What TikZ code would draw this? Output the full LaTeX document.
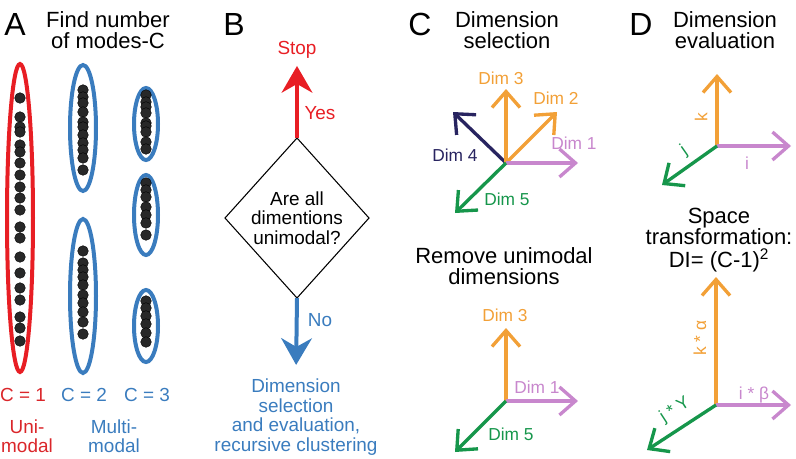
\documentclass[tikz,border=0pt]{standalone}
\usepackage{fontspec}
\setmainfont{Liberation Sans}
\usepackage{tikz}
\usetikzlibrary{arrows.meta,shapes.geometric}

\definecolor{modered}{RGB}{232,30,36}
\definecolor{labelred}{RGB}{218,38,42}
\definecolor{modeblue}{RGB}{58,124,190}
\definecolor{dotgray}{RGB}{40,40,40}
\definecolor{dimorange}{RGB}{242,160,55}
\definecolor{dimpurple}{RGB}{200,135,205}
\definecolor{dimgreen}{RGB}{22,150,75}
\definecolor{dimnavy}{RGB}{40,36,96}

\begin{document}
\begin{tikzpicture}[x=0.75pt,y=-0.75pt]

	\tikzset{panel/.style = {font=\fontsize{24}{26}\selectfont}}
	\tikzset{title/.style = {align=center,font=\fontsize{16.5}{15.75}\selectfont}}
	\tikzset{caption/.style = {align=center,font=\fontsize{14.2}{14.6}\selectfont}}
	\tikzset{dimlabel/.style = {font=\fontsize{13}{15}\selectfont}}
	\tikzset{axlabel/.style = {font=\fontsize{13}{15}\selectfont}}
	\tikzset{dot/.style = {fill=dotgray,draw=black,line width=0.3pt}}
	\tikzset{mode/.style = {line width=3pt}}
	\tikzset{decision/.style = {shape=diamond,draw,line width=0.8pt,aspect=0.9,inner sep=0pt,outer sep=0pt,
		minimum width=108pt,minimum height=120pt,align=center,font=\fontsize{14.2}{14.6}\selectfont}}
	\tikzset{axis/.style = {-{Straight Barb[length=12pt,width=21pt]},line width=2.5pt}}
	\tikzset{flow/.style = {-{Stealth[length=20pt,width=23pt]},line width=3pt}}

	\useasboundingbox (0,0) rectangle (796,458);

	% A: number of modes
	\node[panel] (la) at (15,24) {A};
	\node[title] (ta) at (108,30) {Find number\\of modes-C};

	\draw[mode,modered] (20,218) ellipse [x radius=13, y radius=154];
	\foreach \y in {98,117,127,132,145,152,163,175,187,198,210,227,238,257,273,288,300,317,328,341}
		\filldraw[dot] (20,\y) circle (4pt);

	\draw[mode,modeblue] (83,128) ellipse [x radius=13, y radius=63];
	\draw[mode,modeblue] (83,296) ellipse [x radius=13, y radius=77];
	\foreach \y in {90,97,103,112,122,127,135,143,150,158,170,251,263,270,277,285,295,303,312,322,334}
		\filldraw[dot] (83,\y) circle (4pt);

	\draw[mode,modeblue] (146,124) ellipse [x radius=12, y radius=36];
	\draw[mode,modeblue] (146,215) ellipse [x radius=12, y radius=40];
	\draw[mode,modeblue] (146,326) ellipse [x radius=12, y radius=36];
	\foreach \y in {95,102,107,113,123,126,132,142,149,183,190,197,207,215,223,235,301,308,316,324,333,342}
		\filldraw[dot] (146,\y) circle (4pt);

	\node[caption,labelred] (c1) at (23,395) {C = 1};
	\node[caption,modeblue] (c2) at (84,395) {C = 2};
	\node[caption,modeblue] (c3) at (147,395) {C = 3};
	\node[caption,labelred] (uni) at (27,436) {Uni-\\modal};
	\node[caption,modeblue] (multi) at (114,436) {Multi-\\modal};

	% B: decision
	\node[panel] (lb) at (234,24) {B};
	\node[decision] (q) at (297,218) {Are all\\dimentions\\unimodal?};
	\node[caption,modered] (stop) at (297,50) {Stop};
	\node[caption,modeblue] (next) at (296,417) {Dimension\\selection\\and evaluation,\\recursive clustering};
	\draw[flow,modered,shorten >=2pt] (q.north) -- (stop.south);
	\draw[flow,modeblue,shorten >=7pt] (q.south) -- (next.north);
	\node[caption,modered] (yes) at (320,113) {Yes};
	\node[caption,modeblue] (no) at (320,320) {No};

	% C: dimension selection
	\node[panel] (lc) at (420,24) {C};
	\node[title] (tc) at (507,30) {Dimension\\selection};

	\coordinate (co) at (506,163);
	\coordinate (cd1) at (578,163);
	\coordinate (cd2) at (557,112);
	\coordinate (cd3) at (506,89);
	\coordinate (cd4) at (453,112);
	\coordinate (cd5) at (455,213);
	\draw[axis,dimnavy] (co) -- (cd4);
	\draw[axis,dimorange] (co) -- (cd2);
	\draw[axis,dimorange] (co) -- (cd3);
	\draw[axis,dimpurple] (co) -- (cd1);
	\draw[axis,dimgreen] (co) -- (cd5);
	\node[dimlabel,dimpurple] (dl1) at (574,143) {Dim 1};
	\node[dimlabel,dimorange] (dl2) at (556,98) {Dim 2};
	\node[dimlabel,dimorange] (dl3) at (501,78) {Dim 3};
	\node[dimlabel,dimnavy] (dl4) at (455,155) {Dim 4};
	\node[dimlabel,dimgreen] (dl5) at (507,199) {Dim 5};

	\node[title] (tr) at (504,266) {Remove unimodal\\dimensions};
	\coordinate (ro) at (506,401);
	\coordinate (rd1) at (578,401);
	\coordinate (rd3) at (506,328);
	\coordinate (rd5) at (455,452);
	\draw[axis,dimorange] (ro) -- (rd3);
	\draw[axis,dimpurple] (ro) -- (rd1);
	\draw[axis,dimgreen] (ro) -- (rd5);
	\node[dimlabel,dimorange] (rl3) at (505,315) {Dim 3};
	\node[dimlabel,dimpurple] (rl1) at (537,387) {Dim 1};
	\node[dimlabel,dimgreen] (rl5) at (511,434) {Dim 5};

	% D: dimension evaluation
	\node[panel] (ld) at (641,24) {D};
	\node[title] (td) at (725,30) {Dimension\\evaluation};

	\coordinate (eo) at (717,146);
	\coordinate (ei) at (791,146);
	\coordinate (ej) at (662,185);
	\coordinate (ek) at (717,74);
	\draw[axis,dimorange] (eo) -- (ek);
	\draw[axis,dimpurple] (eo) -- (ei);
	\draw[axis,dimgreen] (eo) -- (ej);
	\node[axlabel,dimorange,rotate=90] (kl) at (701,117) {k};
	\node[axlabel,dimpurple] (il) at (747,163) {i};
	\node[axlabel,dimgreen,rotate=35] (jl) at (684,151) {j};

	\node[title] (ts) at (719,240) {Space\\transformation:\\[2pt]DI= (C-1)\textsuperscript{2}};

	\coordinate (so) at (716,405);
	\coordinate (si) at (791,405);
	\coordinate (sj) at (647,450);
	\coordinate (sk) at (716,277);
	\draw[axis,dimorange] (so) -- (sk);
	\draw[axis,dimpurple] (so) -- (si);
	\draw[axis,dimgreen] (so) -- (sj);
	\node[axlabel,dimorange,rotate=90] (kal) at (700,338) {k * α};
	\node[axlabel,dimpurple] (ibl) at (754,395) {i * β};
	\node[axlabel,dimgreen,rotate=33] (jgl) at (675,410) {j * Y};

\end{tikzpicture}
\end{document}
